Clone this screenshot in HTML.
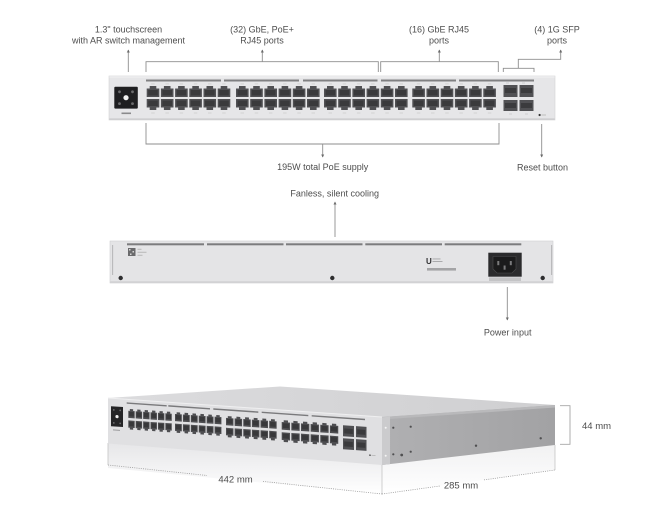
<!DOCTYPE html>
<html><head><meta charset="utf-8">
<style>
html,body{margin:0;padding:0;background:#fff;width:672px;height:527px;overflow:hidden;}
svg{display:block;}
text{font-family:"Liberation Sans",Arial,sans-serif;fill:#4d4d4d;font-size:9px;}
</style></head>
<body>
<svg width="672" height="527" viewBox="0 0 672 527" xmlns="http://www.w3.org/2000/svg">
<defs>
  <!-- top-view ports -->
  <g id="pt">
    <rect x="4.5" y="-2.6" width="3.5" height="1" fill="#d2d2d2"/>
    <path d="M0,2.5 H3 V0 H9.6 V2.5 H12.6 V11 H0 Z" fill="#505053"/>
    <rect x="1.5" y="4" width="9.6" height="5.5" fill="#3a3a3c"/>
  </g>
  <g id="pb">
    <rect x="4.5" y="13.5" width="3.5" height="1" fill="#d2d2d2"/>
    <path d="M0,0 H12.6 V8.5 H9.6 V11 H3 V8.5 H0 Z" fill="#505053"/>
    <rect x="1.5" y="1.5" width="9.6" height="5.5" fill="#3a3a3c"/>
  </g>
  <g id="col"><use href="#pt" y="86"/><use href="#pb" y="99"/></g>
  <g id="g6">
    <use href="#col" x="0"/><use href="#col" x="14.2"/><use href="#col" x="28.4"/>
    <use href="#col" x="42.6"/><use href="#col" x="56.8"/><use href="#col" x="71"/>
  </g>
  <!-- iso-view ports -->
  <g id="qt">
    <path d="M0,1.8 H1.5 V0 H4.7 V1.8 H6.2 V9 H0 Z" fill="#4e4e51"/>
    <rect x="0.8" y="2.8" width="4.6" height="4.5" fill="#38383a"/>
  </g>
  <g id="qb">
    <path d="M0,0 H6.2 V7.2 H4.7 V9 H1.5 V7.2 H0 Z" fill="#4e4e51"/>
    <rect x="0.8" y="1.2" width="4.6" height="4.5" fill="#38383a"/>
  </g>
  <g id="qcol"><use href="#qt" y="9.5"/><use href="#qb" y="21"/></g>
  <g id="q6">
    <use href="#qcol" x="0"/><use href="#qcol" x="7.2"/><use href="#qcol" x="14.4"/>
    <use href="#qcol" x="21.6"/><use href="#qcol" x="28.8"/><use href="#qcol" x="36"/>
  </g>
  <linearGradient id="refl1" x1="0" y1="0" x2="0" y2="1">
    <stop offset="0" stop-color="#e6e6e8"/>
    <stop offset="1" stop-color="#ffffff"/>
  </linearGradient>
  <linearGradient id="refl2" x1="0" y1="0" x2="0" y2="1">
    <stop offset="0" stop-color="#f1f1f2"/>
    <stop offset="1" stop-color="#ffffff"/>
  </linearGradient>
  <linearGradient id="side" x1="0" y1="0" x2="1" y2="0">
    <stop offset="0" stop-color="#b0b0b2"/>
    <stop offset="1" stop-color="#a2a2a4"/>
  </linearGradient>
  <linearGradient id="topg" x1="0" y1="0" x2="1" y2="0">
    <stop offset="0" stop-color="#dcdcde"/>
    <stop offset="1" stop-color="#cfcfd1"/>
  </linearGradient>
</defs>

<rect width="672" height="527" fill="#fff"/>

<!-- ================= TOP LABELS ================= -->
<text x="128.5" y="32.5" text-anchor="middle">1.3" touchscreen</text>
<text x="128.5" y="43.5" text-anchor="middle">with AR switch management</text>
<text x="262" y="32.5" text-anchor="middle">(32) GbE, PoE+</text>
<text x="262" y="43.5" text-anchor="middle">RJ45 ports</text>
<text x="439" y="32.5" text-anchor="middle">(16) GbE RJ45</text>
<text x="439" y="43.5" text-anchor="middle">ports</text>
<text x="557" y="32.5" text-anchor="middle">(4) 1G SFP</text>
<text x="557" y="43.5" text-anchor="middle">ports</text>

<g stroke="#8e8e8e" stroke-width="0.9" fill="none">
  <path d="M128.3,50 V72"/>
  <path d="M146,72 V61.7 H378.3 V72"/>
  <path d="M262.3,61.7 V50"/>
  <path d="M380.7,72 V61.7 H498.3 V72"/>
  <path d="M439.3,61.7 V50"/>
  <path d="M503.3,72 V68.3 H534 V72"/>
  <path d="M518.3,68.3 V59.3 H560.7 V50"/>
  <path d="M146,123 V144 H499 V123"/>
  <path d="M322.7,144 V157"/>
  <path d="M541.7,124 V157"/>
  <path d="M335,202 V237"/>
  <path d="M507.3,287 V320"/>
</g>
<g fill="#6a6a6a">
  <polygon points="126.8,52.5 128.3,49.5 129.8,52.5"/>
  <polygon points="260.8,52.5 262.3,49.5 263.8,52.5"/>
  <polygon points="437.8,52.5 439.3,49.5 440.8,52.5"/>
  <polygon points="559.2,52.5 560.7,49.5 562.2,52.5"/>
  <polygon points="321.2,154.5 322.7,157.5 324.2,154.5"/>
  <polygon points="540.2,154.5 541.7,157.5 543.2,154.5"/>
  <polygon points="333.5,204.5 335,201.5 336.5,204.5"/>
  <polygon points="505.8,317.5 507.3,320.5 508.8,317.5"/>
</g>

<text x="322.7" y="170" text-anchor="middle">195W total PoE supply</text>
<text x="542.5" y="170.5" text-anchor="middle">Reset button</text>
<text x="334.7" y="196.5" text-anchor="middle">Fanless, silent cooling</text>
<text x="507.7" y="335.5" text-anchor="middle">Power input</text>

<!-- ================= FRONT PANEL (top view) ================= -->
<rect x="109" y="76" width="446" height="44" fill="#e6e6e8" stroke="#d2d2d4" stroke-width="0.6"/>
<rect x="109.3" y="76.3" width="445.4" height="1.2" fill="#f1f1f2"/>
<rect x="109.3" y="118.4" width="445.4" height="1.4" fill="#cbcbcd"/>
<!-- bars -->
<g fill="#808082">
  <rect x="146" y="79.5" width="75" height="2"/>
  <rect x="224" y="79.5" width="75" height="2"/>
  <rect x="303" y="79.5" width="74.5" height="2"/>
  <rect x="381" y="79.5" width="75" height="2"/>
  <rect x="459" y="79.5" width="75" height="2"/>
</g>
<!-- touchscreen -->
<rect x="114.3" y="86.8" width="23.5" height="21.8" rx="1" fill="#1f1f21"/>
<circle cx="126" cy="97.7" r="2.6" fill="#f2f2f2"/>
<g fill="#6b6b6d">
  <circle cx="119.5" cy="91.8" r="1.4"/><circle cx="132.5" cy="91.8" r="1.4"/>
  <circle cx="119.5" cy="103.6" r="1.4"/><circle cx="132.5" cy="103.6" r="1.4"/>
</g>
<rect x="121.5" y="112.5" width="9.5" height="1.6" fill="#8a8a8c"/>
<!-- RJ45 ports -->
<use href="#g6" x="146.7"/>
<use href="#g6" x="236"/>
<use href="#g6" x="324"/>
<use href="#g6" x="412.3"/>
<!-- SFP -->
<g>
  <rect x="503.5" y="85" width="14" height="12" fill="#515154"/>
  <rect x="519.5" y="85" width="14" height="12" fill="#515154"/>
  <rect x="503.5" y="100" width="14" height="11" fill="#515154"/>
  <rect x="519.5" y="100" width="14" height="11" fill="#515154"/>
  <g fill="#3b3b3d">
    <rect x="505" y="88" width="11" height="5"/><rect x="521" y="88" width="11" height="5"/>
    <rect x="505" y="103" width="11" height="5"/><rect x="521" y="103" width="11" height="5"/>
  </g>
  <rect x="506" y="82.5" width="3" height="1" fill="#cfcfcf"/>
  <rect x="522" y="82.5" width="3" height="1" fill="#cfcfcf"/>
  <rect x="509" y="113.5" width="3" height="1" fill="#cfcfcf"/>
  <rect x="525" y="113.5" width="3" height="1" fill="#cfcfcf"/>
</g>
<circle cx="539.6" cy="115" r="1.1" fill="#333"/>
<rect x="541.5" y="114.5" width="4.5" height="1" fill="#bdbdbd"/>

<!-- ================= REAR PANEL ================= -->
<rect x="110" y="241" width="443" height="42" fill="#e4e4e6" stroke="#cfcfd1" stroke-width="0.6"/>
<rect x="110.3" y="281.3" width="442.4" height="1.4" fill="#d0d0d2"/>
<g fill="#7c7c7e">
  <rect x="127" y="243.3" width="77" height="2"/>
  <rect x="207" y="243.3" width="76.5" height="2"/>
  <rect x="286" y="243.3" width="76.5" height="2"/>
  <rect x="365.3" y="243.3" width="76.7" height="2"/>
  <rect x="444.7" y="243.3" width="76.6" height="2"/>
</g>
<rect x="112.3" y="245" width="0.8" height="30" fill="#a9a9ab"/>
<rect x="551.3" y="245" width="0.8" height="30" fill="#a9a9ab"/>
<!-- QR + label -->
<rect x="128" y="248" width="7.5" height="8" fill="#6a6a6c"/>
<g fill="#d5d5d5"><rect x="129" y="249" width="1.5" height="1.5"/><rect x="132.5" y="251" width="1.5" height="1.5"/><rect x="130" y="253.5" width="1.5" height="1.5"/></g>
<g fill="#b3b3b3">
  <rect x="137.5" y="248.8" width="4" height="0.9"/>
  <rect x="137.5" y="251.8" width="9" height="0.9"/>
  <rect x="137.5" y="254.8" width="5" height="0.9"/>
</g>
<!-- screws -->
<g fill="#2e2e30">
  <circle cx="120.7" cy="278" r="2.2"/>
  <circle cx="332.3" cy="278" r="2.2"/>
  <circle cx="542.7" cy="278" r="2.2"/>
</g>
<!-- logo + cert -->
<text x="426" y="264" style="font-size:8px;font-weight:bold;fill:#2f2f31">U</text>
<g fill="#a4a4a6">
  <rect x="432.5" y="258.5" width="8" height="0.9"/>
  <rect x="432.5" y="261" width="10" height="0.9"/>
  <rect x="427" y="268" width="29" height="2.6"/>
</g>
<!-- power inlet -->
<rect x="488.3" y="252.7" width="33.4" height="24" fill="#2b2b2d"/>
<path d="M493,256.5 H516 V269 L512,273 H497 L493,269 Z" fill="#1b1b1c" stroke="#4c4c4e" stroke-width="0.6"/>
<g fill="#7a7a7c">
  <rect x="497.3" y="261" width="2" height="4.2"/>
  <rect x="509.8" y="261" width="2" height="4.2"/>
  <rect x="503.6" y="265.5" width="2" height="4.2"/>
</g>
<rect x="489" y="277.4" width="32" height="3.6" fill="#c4c4c6"/>

<!-- ================= ISO VIEW ================= -->
<!-- reflections -->
<polygon points="108,443 382,464 382,494 108,468" fill="url(#refl1)"/>
<polygon points="382,464 555,445 555,470 382,494" fill="url(#refl2)"/>
<!-- dimension lines -->
<g stroke="#c4c4c4" stroke-width="0.8" fill="none">
  <path d="M108,443 V465"/>
  <path d="M382,465 V494"/>
  <path d="M555,445 V470"/>
</g>
<g stroke="#9a9a9a" stroke-width="0.8" fill="none" stroke-dasharray="1 1.2">
  <path d="M108,465 L207,475.5"/>
  <path d="M263,481.4 L382,494"/>
  <path d="M382,494 L440,486"/>
  <path d="M484,479.9 L555,470"/>
</g>
<path d="M560,405.7 H570 V444.3 H560" stroke="#a6a6a6" stroke-width="0.9" fill="none"/>
<text x="235.5" y="482.5" text-anchor="middle" style="font-size:9.5px">442 mm</text>
<text x="461" y="488.5" text-anchor="middle" style="font-size:9.5px">285 mm</text>
<text x="582" y="429" style="font-size:9.5px">44 mm</text>

<!-- top surface -->
<polygon points="108,398 280,386.5 555,405 382,417" fill="url(#topg)"/>
<!-- side face -->
<polygon points="382,417 555,405 555,445 382,465" fill="url(#side)"/>
<polygon points="382,417 555,405 555,407.5 382,419.5" fill="#b9b9bb"/>
<polygon points="381,417.4 390,416.8 390,464.1 381,465.1" fill="#cbcbcd"/>
<g fill="#f4f4f4"><circle cx="385.7" cy="427.7" r="1"/><circle cx="385.7" cy="455.7" r="1"/></g>
<g fill="#4f4f51">
  <circle cx="393.3" cy="427.7" r="1.1"/><circle cx="410.7" cy="426.7" r="1.1"/>
  <circle cx="393.3" cy="454.3" r="1.1"/><circle cx="401.7" cy="455" r="1.4"/>
  <circle cx="410.7" cy="451.7" r="1.1"/><circle cx="476" cy="445.7" r="1.2"/>
  <circle cx="540.7" cy="438.3" r="1.2"/>
</g>
<!-- front face -->
<polygon points="108,398 382,417 382,465 108,443.5" fill="#e0e0e2"/>
<line x1="108" y1="398" x2="382" y2="417" stroke="#efeff0" stroke-width="1"/>
<g transform="matrix(1,0.0693,0,1,108,398)">
  <g fill="#7a7a7c">
    <rect x="18.7" y="3" width="40" height="1.4"/>
    <rect x="60.3" y="3" width="41.7" height="1.4"/>
    <rect x="105.3" y="3" width="45" height="1.4"/>
    <rect x="153.7" y="3" width="46.6" height="1.4"/>
    <rect x="203.7" y="3" width="53.3" height="1.4"/>
  </g>
  <rect x="3" y="8" width="12" height="20" fill="#242426"/>
  <circle cx="9" cy="18" r="1.6" fill="#efefef"/>
  <g fill="#6b6b6d"><circle cx="5.8" cy="11.5" r="0.9"/><circle cx="12.2" cy="11.5" r="0.9"/><circle cx="5.8" cy="24.5" r="0.9"/><circle cx="12.2" cy="24.5" r="0.9"/></g>
  <rect x="5" y="31" width="7" height="1" fill="#9a9a9c"/>
  <use href="#q6" transform="translate(20.3,0) scale(1.03,1)"/>
  <use href="#q6" transform="translate(67,0) scale(1.1,1)"/>
  <use href="#q6" transform="translate(118,0) scale(1.2,1.03)"/>
  <use href="#q6" transform="translate(173.7,0) scale(1.34,1.06)"/>
  <g fill="#505053">
    <rect x="235" y="11" width="11" height="11"/><rect x="248" y="11" width="10.5" height="11"/>
    <rect x="235" y="24" width="11" height="11"/><rect x="248" y="24" width="10.5" height="11"/>
  </g>
  <g fill="#3a3a3c">
    <rect x="236.2" y="14" width="8.6" height="5"/><rect x="249.2" y="14" width="8.1" height="5"/>
    <rect x="236.2" y="27" width="8.6" height="5"/><rect x="249.2" y="27" width="8.1" height="5"/>
  </g>
  <circle cx="262" cy="39" r="0.8" fill="#444"/>
  <rect x="263.5" y="38.6" width="4" height="0.8" fill="#b5b5b5"/>
</g>
</svg>
</body></html>
